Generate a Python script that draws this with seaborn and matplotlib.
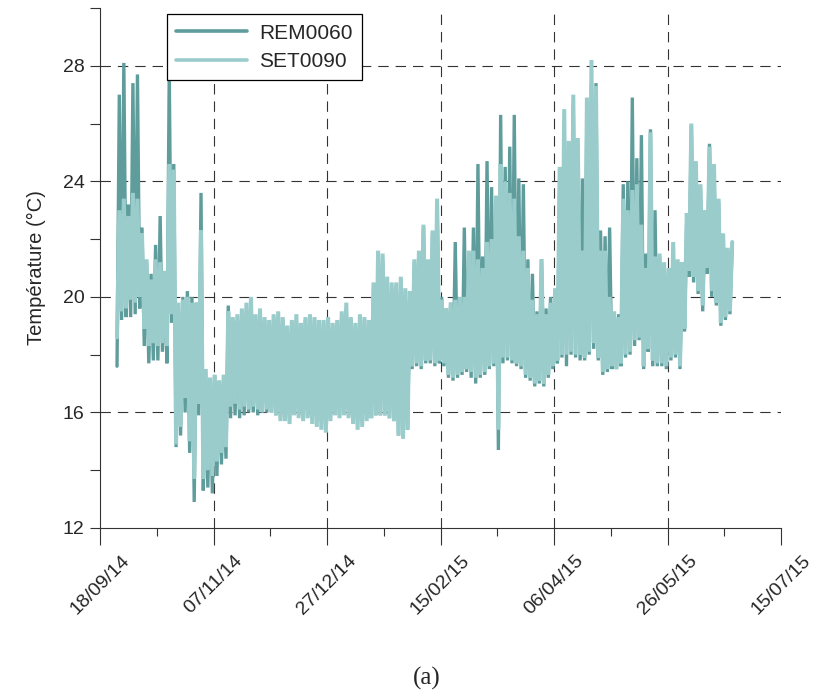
import numpy as np
import pandas as pd
import matplotlib
matplotlib.use("Agg")
import matplotlib.pyplot as plt
from matplotlib.lines import Line2D
from matplotlib.ticker import MultipleLocator
import seaborn as sns

# ---- data: 2-day envelopes (daily max / min) ----
start_date = "2014-09-25"
bin_days = 2

rem_max = [27.0, 28.1, 23.2, 27.4, 27.7, 22.4, 21.2, 20.8, 21.8, 22.8,
           20.6, 27.8, 24.6, 19.6, 20.0, 20.2, 20.0, 19.8, 23.6, 17.5,
           17.2, 17.3, 17.1, 17.3, 19.7, 19.2, 19.2, 19.4, 19.5, 19.7,
           19.2, 19.4, 19.2, 19.1, 19.3, 19.3, 19.2, 19.0, 19.1, 19.2,
           19.0, 19.2, 19.3, 19.2, 19.1, 19.1, 19.2, 19.0, 19.1, 19.4,
           19.6, 19.2, 19.0, 19.3, 19.2, 19.1, 20.3, 21.4, 21.3, 20.5,
           20.3, 20.4, 20.6, 20.2, 20.1, 21.2, 21.5, 22.4, 21.2, 22.2,
           23.3, 20.0, 19.6, 19.8, 21.9, 19.9, 22.4, 21.5, 22.4, 24.6,
           21.4, 24.7, 23.8, 23.4, 26.3, 24.5, 25.2, 26.3, 24.1, 23.9,
           21.3, 20.8, 19.5, 21.3, 19.6, 20.0, 20.0, 24.0, 26.0, 25.3,
           26.7, 25.3, 24.1, 26.5, 27.4, 27.4, 22.3, 22.1, 22.4, 19.4,
           19.4, 23.9, 24.0, 26.9, 24.8, 25.6, 21.5, 25.8, 23.0, 21.4,
           21.1, 20.9, 21.7, 21.2, 21.1, 22.8, 25.9, 24.6, 23.8, 22.9,
           25.3, 24.5, 23.3, 22.1, 21.6, 21.8]
rem_min = [17.6, 19.2, 19.3, 19.3, 19.4, 19.6, 18.3, 17.7, 17.8, 17.8,
           18.1, 17.7, 19.1, 14.8, 15.2, 16.0, 14.6, 12.9, 15.9, 13.3,
           13.4, 13.2, 13.8, 14.2, 14.4, 15.8, 15.9, 15.8, 15.9, 16.0,
           16.0, 15.9, 16.0, 16.0, 16.0, 15.9, 15.8, 15.8, 15.8, 16.0,
           15.9, 15.9, 15.9, 15.8, 15.7, 15.7, 15.6, 15.8, 16.0, 15.9,
           16.0, 15.9, 15.8, 15.7, 15.7, 15.8, 15.9, 15.9, 15.9, 15.9,
           15.8, 15.7, 15.2, 15.1, 15.4, 17.5, 17.6, 17.5, 17.7, 17.7,
           17.6, 17.7, 17.6, 17.2, 17.1, 17.2, 17.3, 17.4, 17.2, 17.0,
           17.2, 17.3, 17.5, 17.6, 14.7, 17.7, 17.8, 17.7, 17.6, 17.5,
           17.2, 17.1, 16.9, 17.0, 16.9, 17.2, 17.5, 17.7, 17.9, 17.6,
           18.0, 17.9, 17.8, 17.8, 18.0, 18.2, 17.8, 17.3, 17.4, 17.5,
           17.5, 17.6, 17.9, 18.0, 18.3, 18.5, 17.5, 18.1, 17.6, 17.6,
           17.6, 17.5, 17.8, 17.9, 17.5, 18.8, 20.7, 20.5, 20.1, 19.5,
           20.8, 20.0, 19.7, 19.0, 19.2, 19.4]
set_max = [23.0, 23.4, 22.8, 23.6, 23.4, 22.2, 21.3, 20.6, 21.3, 21.2,
           20.9, 24.6, 24.4, 19.8, 19.9, 20.0, 19.8, 19.8, 22.3, 17.5,
           17.2, 17.3, 17.1, 17.3, 19.5, 19.3, 19.4, 19.6, 19.8, 20.0,
           19.4, 19.6, 19.3, 19.2, 19.4, 19.5, 19.3, 19.0, 19.2, 19.4,
           19.1, 19.3, 19.4, 19.3, 19.2, 19.2, 19.3, 19.1, 19.2, 19.5,
           19.8, 19.3, 19.1, 19.4, 19.3, 19.2, 20.5, 21.6, 21.5, 20.7,
           20.5, 20.5, 20.7, 20.3, 20.2, 21.3, 21.6, 22.5, 21.3, 22.3,
           23.4, 19.9, 19.6, 19.8, 19.9, 20.0, 20.0, 21.6, 21.6, 21.3,
           21.0, 21.9, 22.0, 23.5, 24.6, 24.0, 23.6, 23.4, 22.1, 21.6,
           21.0, 19.9, 19.4, 21.3, 19.4, 19.8, 20.3, 24.5, 26.5, 25.4,
           27.0, 25.5, 21.6, 26.9, 28.2, 27.3, 21.6, 21.6, 20.0, 19.5,
           19.3, 23.4, 23.0, 23.7, 23.9, 22.5, 21.0, 25.7, 21.4, 21.5,
           21.2, 21.0, 21.9, 21.3, 21.2, 22.9, 26.0, 24.7, 23.9, 23.0,
           25.2, 24.6, 23.4, 22.2, 21.7, 21.9]
set_min = [18.6, 19.5, 19.6, 19.9, 19.8, 20.0, 18.9, 18.3, 18.4, 18.3,
           18.4, 18.3, 19.4, 14.9, 15.5, 16.5, 15.0, 13.7, 16.3, 13.7,
           14.0, 13.8, 14.3, 14.6, 14.8, 16.2, 16.3, 16.1, 16.2, 16.1,
           16.2, 16.1, 16.0, 16.1, 16.0, 15.9, 15.7, 15.7, 15.6, 15.9,
           15.8, 15.7, 15.8, 15.6, 15.5, 15.4, 15.3, 15.7, 15.9, 15.8,
           15.9, 15.8, 15.6, 15.4, 15.5, 15.7, 15.8, 15.9, 15.9, 15.9,
           15.8, 15.7, 15.2, 15.1, 15.4, 17.6, 17.7, 17.6, 17.8, 17.8,
           17.7, 17.8, 17.7, 17.3, 17.2, 17.3, 17.4, 17.5, 17.4, 17.2,
           17.3, 17.4, 17.6, 17.7, 15.4, 17.9, 17.9, 17.8, 17.7, 17.6,
           17.3, 17.2, 17.0, 17.1, 17.0, 17.3, 17.6, 17.8, 18.0, 18.0,
           18.1, 18.0, 18.0, 17.9, 18.1, 18.4, 17.9, 17.4, 17.5, 17.6,
           17.5, 17.7, 18.0, 18.1, 18.5, 18.6, 17.6, 18.2, 17.8, 17.7,
           17.7, 17.6, 17.9, 18.0, 17.6, 18.9, 20.9, 20.7, 20.2, 19.7,
           21.0, 20.2, 19.8, 19.1, 19.3, 19.5]

series_names = ["REM0060", "SET0090"]
x_tick_labels = ["18/09/14", "07/11/14", "27/12/14", "15/02/15",
                 "06/04/15", "26/05/15", "15/07/15"]
y_ticks = [12, 16, 20, 24, 28]

colors = {"REM0060": "#5f9c9c", "SET0090": "#9acccc"}
widths = {"REM0060": 2.4, "SET0090": 2.9}


def build(name, hi, lo):
    t0 = pd.Timestamp(start_date)
    rows = []
    for i, (h, l) in enumerate(zip(hi, lo)):
        base = t0 + pd.Timedelta(days=bin_days * i)
        rows.append((base + pd.Timedelta(hours=12), l, name))
        rows.append((base + pd.Timedelta(hours=36), h, name))
    return pd.DataFrame(rows, columns=["date", "temp", "series"])


df = pd.concat([build("REM0060", rem_max, rem_min),
                build("SET0090", set_max, set_min)], ignore_index=True)

sns.set_style("white")
plt.rcParams["font.family"] = ["Liberation Sans", "DejaVu Sans"]
plt.rcParams["lines.scale_dashes"] = False

fig = plt.figure(figsize=(8.2, 6.93), dpi=100)
ax = fig.add_axes([100 / 820, 1 - 528 / 693, 681 / 820, 520 / 693])

for name in series_names:
    sns.lineplot(data=df[df["series"] == name], x="date", y="temp",
                 color=colors[name], estimator=None, sort=False,
                 lw=widths[name], ax=ax, legend=False)
for ln in ax.lines:
    ln.set_solid_joinstyle("miter")

# axes limits
x_dates = pd.to_datetime(x_tick_labels, format="%d/%m/%y")
ax.set_xlim(x_dates[0], x_dates[-1])
ax.set_ylim(12, 30)

ax.set_xticks(x_dates)
ax.set_xticklabels(x_tick_labels, rotation=45, ha="center", va="top",
                   fontsize=14)
minor_dates = x_dates[:-1] + (x_dates[1:] - x_dates[:-1]) / 2
ax.set_xticks(minor_dates, minor=True)

ax.set_yticks(y_ticks)
ax.set_yticklabels([str(v) for v in y_ticks], fontsize=14)
ax.yaxis.set_minor_locator(MultipleLocator(2))

ax.tick_params(axis="x", which="both", bottom=True)
ax.tick_params(axis="y", which="both", left=True)
ax.tick_params(axis="x", which="major", direction="out", length=12, width=0.8,
               color="#333333", pad=5)
ax.tick_params(axis="x", which="minor", direction="out", length=6, width=0.8,
               color="#333333")
ax.tick_params(axis="y", which="both", direction="out", length=7, width=0.8,
               color="#333333", pad=4)

for s in ["top", "right"]:
    ax.spines[s].set_visible(False)
for s in ["left", "bottom"]:
    ax.spines[s].set_color("#333333")
    ax.spines[s].set_linewidth(0.8)

ax.grid(True, which="major", axis="both", color="#333333", lw=0.8,
        linestyle=(0, (7.5, 5)))
xg = ax.get_xgridlines()
xg[0].set_visible(False)
xg[-1].set_visible(False)
ax.get_ygridlines()[0].set_visible(False)

ax.set_xlabel("")
ax.set_ylabel("Température (°C)", fontsize=14.5, labelpad=12)

handles = [Line2D([0], [0], color=colors[n], lw=2.6) for n in series_names]
leg = ax.legend(handles, series_names, loc="upper left",
                bbox_to_anchor=(0.098, 0.988), borderaxespad=0,
                fontsize=15, handlelength=3.4, frameon=True, fancybox=False,
                framealpha=1, edgecolor="black", borderpad=0.45,
                labelspacing=0.45, handletextpad=0.6)
leg.get_frame().set_linewidth(0.9)

fig.text(427 / 820, 1 - 678 / 693, "(a)", ha="center", va="center",
         fontsize=18, family="Liberation Serif")

fig.savefig("out.png", dpi=100)
